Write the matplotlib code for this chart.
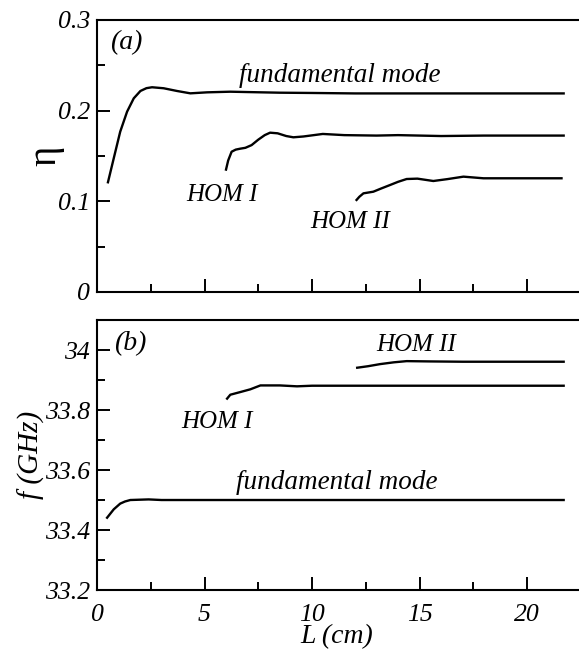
import matplotlib
matplotlib.use("Agg")
import matplotlib.pyplot as plt
from matplotlib.ticker import MultipleLocator, FuncFormatter

# (a) efficiency eta vs cavity length L (cm)
fund_a_L = [0.51, 0.78, 1.08, 1.40, 1.71, 2.02, 2.3, 2.56, 3.1, 3.72, 4.34, 5.12, 6.2, 7.0, 8.5, 10, 12, 15, 18, 21.7]
fund_a_eta = [0.121, 0.1475, 0.1768, 0.1989, 0.2136, 0.2217, 0.2248, 0.2258, 0.2247, 0.2217, 0.2191, 0.2202,
              0.2209, 0.2205, 0.2198, 0.2195, 0.219, 0.219, 0.219, 0.219]
hom1_a_L = [6.0, 6.1, 6.26, 6.45, 6.65, 6.9, 7.19, 7.5, 7.8, 8.05, 8.4, 8.8, 9.13, 9.6, 10.5, 11.5, 13, 14, 16, 18, 21.7]
hom1_a_eta = [0.135, 0.145, 0.1547, 0.157, 0.158, 0.159, 0.162, 0.168, 0.173, 0.1757, 0.175, 0.172, 0.1706, 0.1715,
              0.1743, 0.173, 0.1725, 0.173, 0.172, 0.1725, 0.1725]
hom2_a_L = [12.07, 12.2, 12.39, 12.85, 13.2, 13.63, 14.0, 14.4, 14.9, 15.64, 16.3, 17.04, 17.97, 19, 21.6]
hom2_a_eta = [0.1015, 0.105, 0.1088, 0.1106, 0.114, 0.118, 0.1215, 0.1246, 0.125, 0.1224, 0.1245, 0.1272, 0.1254,
              0.1254, 0.1254]

# (b) frequency f (GHz) vs L (cm)
fund_b_L = [0.47, 0.78, 1.08, 1.3, 1.55, 2.4, 3, 5, 10, 15, 21.7]
fund_b_f = [33.441, 33.469, 33.488, 33.495, 33.500, 33.502, 33.50, 33.50, 33.50, 33.50, 33.50]
hom1_b_L = [6.05, 6.2, 6.67, 7.13, 7.6, 8.5, 9.3, 10, 12, 15, 18, 21.7]
hom1_b_f = [33.838, 33.851, 33.860, 33.869, 33.882, 33.882, 33.879, 33.881, 33.881, 33.881, 33.881, 33.881]
hom2_b_L = [12.1, 12.6, 13.16, 13.8, 14.4, 15.5, 17, 19, 21.7]
hom2_b_f = [33.941, 33.946, 33.953, 33.959, 33.963, 33.962, 33.961, 33.961, 33.961]

plt.rcParams["font.family"] = ["Liberation Serif", "DejaVu Serif"]

fig = plt.figure(figsize=(5.79, 6.51), dpi=100)
ax_a = fig.add_axes([0.1675, 0.5515, 0.845, 0.4178])
ax_b = fig.add_axes([0.1675, 0.0937, 0.845, 0.4147])

lw = 1.7
tick_fs = 18.5
fmt = FuncFormatter(lambda v, p: "%g" % round(v, 3))

for ax in (ax_a, ax_b):
    ax.set_xlim(0, 22.75)
    ax.xaxis.set_major_locator(MultipleLocator(5))
    ax.xaxis.set_minor_locator(MultipleLocator(2.5))
    ax.yaxis.set_major_formatter(fmt)
    ax.xaxis.set_major_formatter(fmt)
    ax.tick_params(which="both", direction="in", width=1.4, top=False, right=False,
                   labelsize=tick_fs)
    ax.tick_params(which="major", length=9.5)
    ax.tick_params(which="minor", length=6)
    ax.tick_params(axis="y", pad=5)
    ax.tick_params(axis="x", pad=10)
    for s in ax.spines.values():
        s.set_linewidth(1.5)
    for lab in ax.get_xticklabels() + ax.get_yticklabels():
        lab.set_fontstyle("italic")

# panel (a)
ax_a.plot(fund_a_L, fund_a_eta, color="black", lw=lw)
ax_a.plot(hom1_a_L, hom1_a_eta, color="black", lw=lw)
ax_a.plot(hom2_a_L, hom2_a_eta, color="black", lw=lw)
ax_a.set_ylim(0, 0.3)
ax_a.yaxis.set_major_locator(MultipleLocator(0.1))
ax_a.yaxis.set_minor_locator(MultipleLocator(0.05))
ax_a.tick_params(axis="x", labelbottom=False)
ax_a.set_ylabel("η", fontsize=28, fontstyle="normal", labelpad=-5)

ax_a.text(0.6, 0.275, "(a)", fontsize=20, style="italic", ha="left", va="center")
ax_a.text(11.28, 0.239, "fundamental mode", fontsize=19.5, style="italic", ha="center", va="center")
ax_a.text(5.8, 0.107, "HOM I", fontsize=18, style="italic", ha="center", va="center")
ax_a.text(11.77, 0.0775, "HOM II", fontsize=18, style="italic", ha="center", va="center")

# panel (b)
ax_b.plot(fund_b_L, fund_b_f, color="black", lw=lw)
ax_b.plot(hom1_b_L, hom1_b_f, color="black", lw=lw)
ax_b.plot(hom2_b_L, hom2_b_f, color="black", lw=lw)
ax_b.set_ylim(33.2, 34.1)
ax_b.yaxis.set_major_locator(MultipleLocator(0.2))
ax_b.yaxis.set_minor_locator(MultipleLocator(0.1))
ax_b.set_ylabel("f (GHz)", fontsize=21, style="italic", labelpad=0)
ax_b.set_xlabel("L (cm)", fontsize=20, style="italic", labelpad=-4)
ax_b.xaxis.set_label_coords(0.49, -0.125)

ax_b.text(0.8, 34.02, "(b)", fontsize=20, style="italic", ha="left", va="center")
ax_b.text(11.15, 33.558, "fundamental mode", fontsize=19.5, style="italic", ha="center", va="center")
ax_b.text(5.57, 33.76, "HOM I", fontsize=18, style="italic", ha="center", va="center")
ax_b.text(14.83, 34.017, "HOM II", fontsize=18, style="italic", ha="center", va="center")

fig.savefig("out.png", dpi=100)
